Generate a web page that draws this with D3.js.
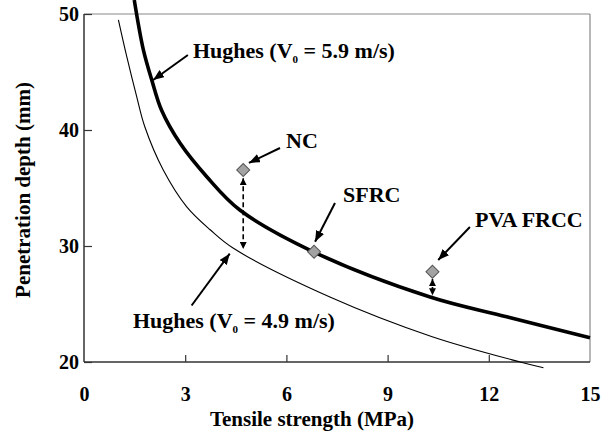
<!DOCTYPE html>
<html>
<head>
<meta charset="utf-8">
<title>Penetration depth vs tensile strength</title>
<style>
body { margin: 0; background: #fff; }
text { font-family: "Liberation Serif", "Times New Roman", serif; font-weight: bold; fill: #000; }
.axis text { font-size: 20px; }
.axis .domain { display: none; }
.axis .tick line { stroke: #333; stroke-width: 1.2; }
.frame-dark { stroke: #333; stroke-width: 1.5; }
.frame-light { stroke: #888; stroke-width: 1.2; }
.curve { fill: none; stroke: #000; }
.title { font-size: 21px; }
.note { font-size: 22px; }
</style>
</head>
<body>
<div id="vis"></div>
<script src="https://cdn.jsdelivr.net/npm/d3@7"></script>
<script>

// Hughes curve, V0 = 5.9 m/s (thick)
var strength59 = [1.49, 1.76, 2.01, 2.30, 2.85, 3.64, 4.62, 6.80, 10.26, 12.53, 15.0];
var depth59    = [51.2, 46.9, 44.3, 41.7, 38.85, 35.97, 33.1, 29.5, 25.6, 23.9, 22.1];

// Hughes curve, V0 = 4.9 m/s (thin)
var strength49 = [1.02, 1.27, 1.56, 1.80, 2.35, 3.04, 3.74, 4.43, 7.29, 10.3, 12.93, 13.62];
var depth49    = [49.5, 46.3, 42.9, 40.3, 36.55, 33.4, 31.4, 29.8, 25.6, 22.2, 20.0, 19.5];

// test results
var specimens     = ["NC", "SFRC", "PVA FRCC"];
var specStrength  = [4.72, 6.82, 10.33];
var specDepth     = [36.55, 29.5, 27.78];

var xTicks = [0, 3, 6, 9, 12, 15];
var yTicks = [20, 30, 40, 50];

var margin = {top: 14, right: 13, bottom: 71, left: 84},
    W = 603, H = 433,
    width = W - margin.left - margin.right,
    height = H - margin.top - margin.bottom;

var x = d3.scaleLinear().domain([0, 15]).range([0, width]);
var y = d3.scaleLinear().domain([20, 50]).range([height, 0]);

var svg = d3.select("#vis").append("svg")
    .attr("width", W)
    .attr("height", H);

svg.append("rect").attr("width", W).attr("height", H).attr("fill", "#fff");

// arrow heads
var defs = svg.append("defs");
defs.append("marker")
    .attr("id", "head")
    .attr("viewBox", "0 0 10 8")
    .attr("refX", 10).attr("refY", 4)
    .attr("markerUnits", "userSpaceOnUse")
    .attr("markerWidth", 11).attr("markerHeight", 9)
    .attr("orient", "auto")
  .append("path").attr("d", "M0,0L10,4L0,8Z").attr("fill", "#000");
defs.append("marker")
    .attr("id", "small")
    .attr("viewBox", "0 0 10 10")
    .attr("refX", 10).attr("refY", 5)
    .attr("markerUnits", "userSpaceOnUse")
    .attr("markerWidth", 7).attr("markerHeight", 7)
    .attr("orient", "auto-start-reverse")
  .append("path").attr("d", "M0,0L10,5L0,10Z").attr("fill", "#000");

var g = svg.append("g")
    .attr("transform", "translate(" + margin.left + "," + margin.top + ")");

// frame
g.append("line").attr("class", "frame-light").attr("x1", 0).attr("x2", width).attr("y1", 0).attr("y2", 0);
g.append("line").attr("class", "frame-light").attr("x1", width).attr("x2", width).attr("y1", 0).attr("y2", height);
g.append("line").attr("class", "frame-dark").attr("x1", 0).attr("x2", 0).attr("y1", 0).attr("y2", height);
g.append("line").attr("class", "frame-dark").attr("x1", 0).attr("x2", width).attr("y1", height).attr("y2", height);

// axes, ticks point inward
var xAxis = d3.axisBottom(x).tickValues(xTicks).tickSizeInner(-7).tickSizeOuter(0).tickPadding(25);
var yAxis = d3.axisLeft(y).tickValues(yTicks).tickSizeInner(-8).tickSizeOuter(0).tickPadding(5);

var gx = g.append("g").attr("class", "axis").attr("transform", "translate(0," + height + ")").call(xAxis);
gx.selectAll(".tick").filter(function(d) { return d === 0 || d === 15; }).select("line").remove();
g.append("g").attr("class", "axis").call(yAxis);

// axis titles
g.append("text")
    .attr("class", "title")
    .attr("x", width / 2 - 25).attr("y", height + 64)
    .attr("text-anchor", "middle")
    .text("Tensile strength (MPa)");

g.append("text")
    .attr("class", "title")
    .attr("transform", "translate(" + (-54) + "," + (height / 2 + 2) + ") rotate(-90)")
    .attr("text-anchor", "middle")
    .text("Penetration depth (mm)");

// curves
var line = d3.line()
    .x(function(d) { return x(d[0]); })
    .y(function(d) { return y(d[1]); })
    .curve(d3.curveCatmullRom.alpha(0.5));

g.append("path").attr("class", "curve").attr("stroke-width", 1.1)
    .attr("d", line(d3.zip(strength49, depth49)));
g.append("path").attr("class", "curve").attr("stroke-width", 3.6)
    .attr("d", line(d3.zip(strength59, depth59)));

// dashed double arrows (gap to the curves)
var gaps = [
  {x: 4.72, y1: 35.85, y2: 29.75},
  {x: 10.33, y1: 27.15, y2: 25.75}
];
g.selectAll(".gap").data(gaps).enter().append("line")
    .attr("class", "gap")
    .attr("x1", function(d) { return x(d.x); })
    .attr("x2", function(d) { return x(d.x); })
    .attr("y1", function(d) { return y(d.y1); })
    .attr("y2", function(d) { return y(d.y2); })
    .attr("stroke", "#000").attr("stroke-width", 1.6)
    .attr("stroke-dasharray", "5,3")
    .attr("marker-start", "url(#small)")
    .attr("marker-end", "url(#small)");

// specimens
var sq = d3.symbol().type(d3.symbolSquare).size(85);
g.selectAll(".spec").data(d3.range(specimens.length)).enter().append("path")
    .attr("class", "spec")
    .attr("d", sq)
    .attr("transform", function(i) { return "translate(" + x(specStrength[i]) + "," + y(specDepth[i]) + ") rotate(45)"; })
    .attr("fill", "#a3a3a3").attr("stroke", "#555").attr("stroke-width", 1);

// labels with pointer arrows (data units)
var notes = [
  {text: "Hughes (V", sub: "0", rest: " = 5.9 m/s)", tx: 3.23, ty: 46.21, ax: 3.08, ay: 46.47, bx: 2.05, by: 44.31},
  {text: "NC", tx: 5.99, ty: 38.45, ax: 5.81, ay: 38.45, bx: 4.89, by: 37.16},
  {text: "SFRC", tx: 7.68, ty: 33.79, ax: 7.44, ay: 33.71, bx: 6.85, by: 30.37},
  {text: "PVA FRCC", tx: 11.59, ty: 31.64, ax: 11.44, ay: 31.64, bx: 10.5, by: 28.79},
  {text: "Hughes (V", sub: "0", rest: " = 4.9 m/s)", tx: 1.45, ty: 22.93, ax: 3.19, ay: 24.87, bx: 4.32, by: 29.34}
];

g.selectAll(".pointer").data(notes).enter().append("line")
    .attr("class", "pointer")
    .attr("x1", function(d) { return x(d.ax); })
    .attr("y1", function(d) { return y(d.ay); })
    .attr("x2", function(d) { return x(d.bx); })
    .attr("y2", function(d) { return y(d.by); })
    .attr("stroke", "#000").attr("stroke-width", 2)
    .attr("marker-end", "url(#head)");

var lbl = g.selectAll(".note").data(notes).enter().append("text")
    .attr("class", "note")
    .attr("x", function(d) { return x(d.tx); })
    .attr("y", function(d) { return y(d.ty); });
lbl.append("tspan").text(function(d) { return d.text; });
lbl.filter(function(d) { return d.sub; }).append("tspan")
    .attr("font-size", "11px").attr("dy", 5).text(function(d) { return d.sub; });
lbl.filter(function(d) { return d.sub; }).append("tspan")
    .attr("dy", -5).text(function(d) { return d.rest; });

</script>
</body>
</html>
